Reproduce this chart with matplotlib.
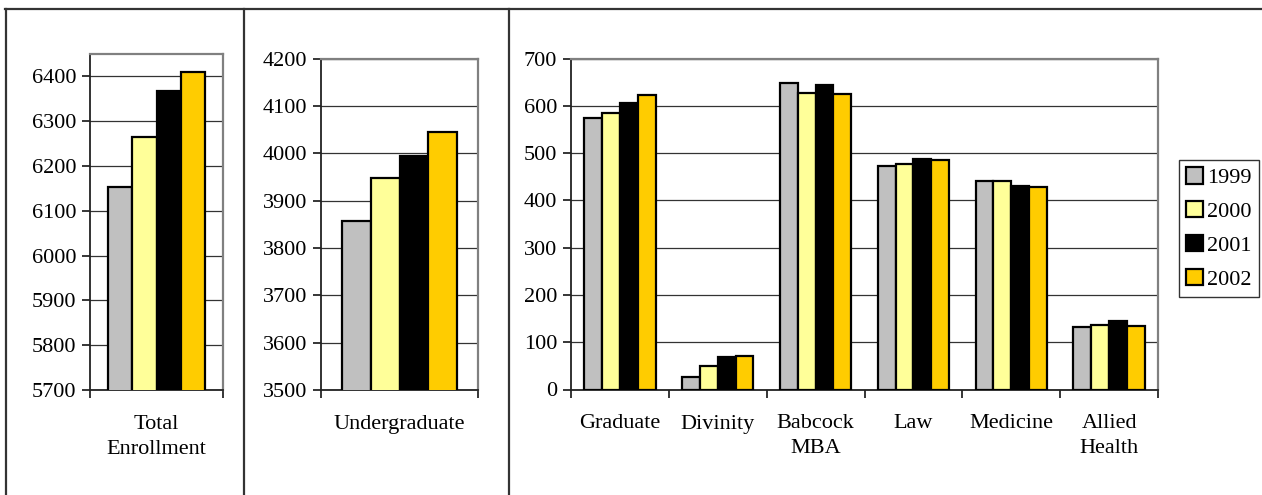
import matplotlib
matplotlib.use('Agg')
import matplotlib.pyplot as plt
from matplotlib.lines import Line2D
import numpy as np

plt.rcParams['font.family'] = ['Liberation Serif', 'DejaVu Serif']

years = ['1999', '2000', '2001', '2002']
colors = ['#C0C0C0', '#FFFF99', '#000000', '#FFCC00']

total_enrollment = [6153, 6264, 6367, 6410]
undergraduate = [3857, 3948, 3994, 4044]

schools = ['Graduate', 'Divinity', 'Babcock\nMBA', 'Law', 'Medicine', 'Allied\nHealth']
y1999 = [575, 27, 648, 472, 441, 133]
y2000 = [584, 49, 628, 477, 440, 136]
y2001 = [605, 69, 644, 487, 431, 145]
y2002 = [622, 71, 625, 485, 428, 134]

W, H = 1262, 495
FS = 16


def make_axes(fig, left, right, top, bottom):
    return fig.add_axes([left / W, 1 - bottom / H, (right - left) / W, (bottom - top) / H])


def draw_panel(ax, cats, series, ylim, yticks):
    n = len(cats)
    x = np.arange(n)
    bw = 0.73 / len(series)
    for i, vals in enumerate(series):
        ax.bar(x + (i - 1.5) * bw, vals, width=bw, color=colors[i],
               edgecolor='black', linewidth=1.6, label=years[i], zorder=3)
    ax.set_xlim(-0.5, n - 0.5)
    ax.set_ylim(*ylim)
    ax.set_yticks(yticks)
    ax.yaxis.grid(True, color='#333333', linewidth=0.9, zorder=0)
    ax.set_xticks(x)
    ax.set_xticklabels(cats, fontsize=FS, linespacing=1.4)
    ax.set_xticks(np.arange(n + 1) - 0.5, minor=True)
    ax.tick_params(axis='x', which='major', length=0, pad=18)
    ax.tick_params(axis='x', which='minor', length=6, width=1.1, direction='out')
    ax.tick_params(axis='y', length=6, width=1.1, direction='out', labelsize=FS, pad=4)
    for s in ['top', 'right']:
        ax.spines[s].set_color('#808080')
        ax.spines[s].set_linewidth(1.6)
    for s in ['left', 'bottom']:
        ax.spines[s].set_color('#222222')
        ax.spines[s].set_linewidth(1.3)


fig = plt.figure(figsize=(W / 100, H / 100), dpi=100)

ax1 = make_axes(fig, 90, 223, 54, 390)
draw_panel(ax1, ['Total\nEnrollment'], [[v] for v in total_enrollment],
           (5700, 6450), range(5700, 6401, 100))

ax2 = make_axes(fig, 321, 478, 58.5, 390)
draw_panel(ax2, ['Undergraduate'], [[v] for v in undergraduate],
           (3500, 4200), range(3500, 4201, 100))

ax3 = make_axes(fig, 571, 1158, 58.5, 389.5)
draw_panel(ax3, schools, [y1999, y2000, y2001, y2002],
           (0, 700), range(0, 701, 100))

handles, labels = ax3.get_legend_handles_labels()
leg = fig.legend(handles, labels, loc='upper left',
                 bbox_to_anchor=(1179 / W, 1 - 160 / H), borderaxespad=0,
                 fontsize=FS, frameon=True, fancybox=False, shadow=False,
                 handlelength=0.75, handleheight=0.75, handletextpad=0.2,
                 labelspacing=0.58, borderpad=0.33)
leg.get_frame().set_edgecolor('black')
leg.get_frame().set_linewidth(1.0)

# outer frame of the page layout
frame_kw = dict(transform=fig.transFigure, color='#333333', linewidth=1.6)
fig.add_artist(Line2D([5 / W, 1], [1 - 8.5 / H, 1 - 8.5 / H], **frame_kw))
fig.add_artist(Line2D([6 / W, 6 / W], [0, 1 - 8.5 / H], **frame_kw))
fig.add_artist(Line2D([244 / W, 244 / W], [0, 1 - 8.5 / H], **frame_kw))
fig.add_artist(Line2D([508.5 / W, 508.5 / W], [0, 1 - 8.5 / H], **frame_kw))

fig.savefig('out.png', dpi=100)
